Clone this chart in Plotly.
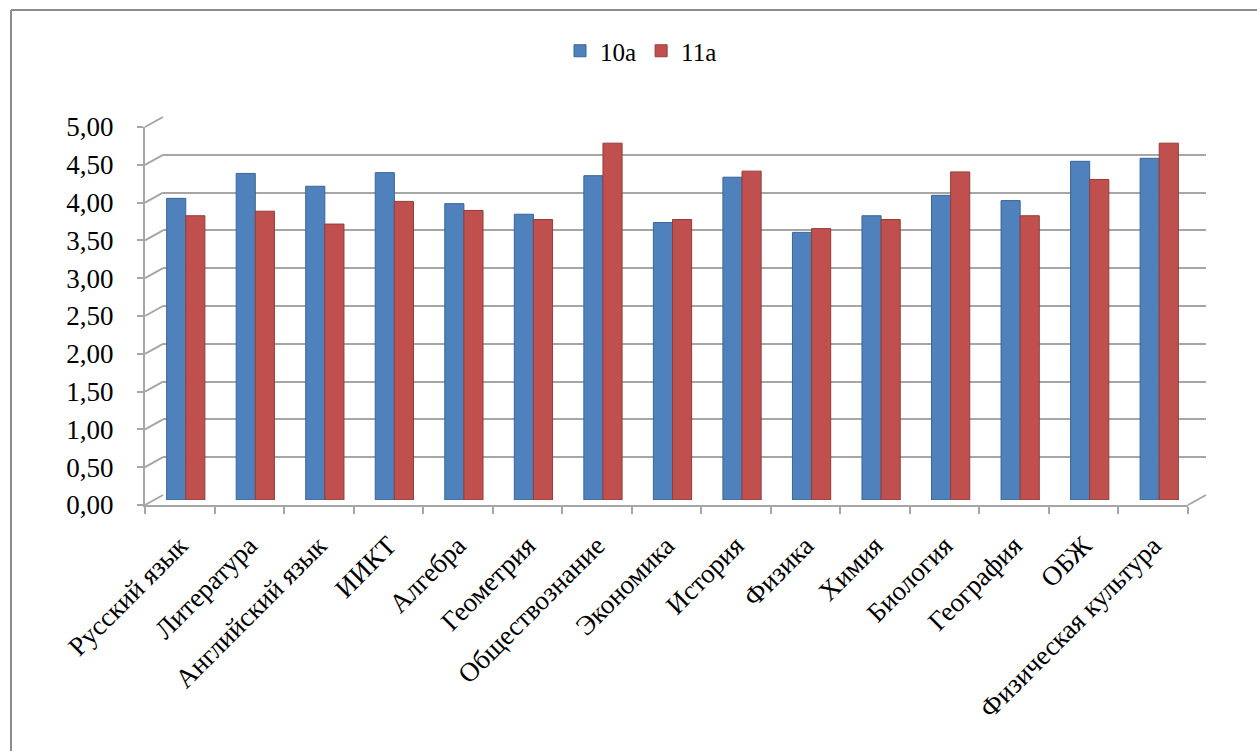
import plotly.graph_objects as go

categories = ["Русский язык", "Литература", "Английский язык", "ИИКТ", "Алгебра",
              "Геометрия", "Обществознание", "Экономика", "История", "Физика",
              "Химия", "Биология", "География", "ОБЖ", "Физическая культура"]
values_10a = [3.99, 4.32, 4.15, 4.33, 3.92, 3.78, 4.29, 3.67, 4.27, 3.54, 3.76, 4.03, 3.96, 4.48, 4.52]
values_11a = [3.76, 3.82, 3.65, 3.95, 3.83, 3.71, 4.72, 3.71, 4.35, 3.59, 3.71, 4.34, 3.76, 4.24, 4.72]
y_ticks = [0, 0.5, 1.0, 1.5, 2.0, 2.5, 3.0, 3.5, 4.0, 4.5, 5.0]
series_names = ["10a", "11a"]

# ---- layout geometry (pixels) ----
WIDTH, HEIGHT = 1257, 751
L, R, T, B = 145, 1206, 117, 505          # overall plot box
PW, PH = R - L, B - T

def dx(px):
    return (px - L) / PW

def dy(py):
    return (B - py) / PH

front_x = [dx(145), dx(1188)]
front_y = [dy(505), dy(127)]
back_x = [dx(163), dx(1206)]
back_y = [dy(495), dy(117)]
mid_x = [dx(151), dx(1194)]
mid_y = [dy(500), dy(122)]

BLUE, RED = "#4F81BD", "#C0504D"
GRID = "#a6a6a6"
FONT = "Liberation Serif"

fig = go.Figure()

# back wall (gridlines only)
fig.add_trace(go.Scatter(x=categories, y=[None] * len(categories), xaxis="x", yaxis="y",
                         showlegend=False, hoverinfo="skip"))
# bars (middle depth)
fig.add_trace(go.Bar(x=categories, y=values_10a, name=series_names[0], xaxis="x2", yaxis="y2",
                     marker=dict(color=BLUE, line=dict(color="#3a6595", width=1))))
fig.add_trace(go.Bar(x=categories, y=values_11a, name=series_names[1], xaxis="x2", yaxis="y2",
                     marker=dict(color=RED, line=dict(color="#943c3a", width=1))))
# front axes
fig.add_trace(go.Scatter(x=categories, y=[None] * len(categories), xaxis="x3", yaxis="y3",
                         showlegend=False, hoverinfo="skip"))

rng_x = [-0.5, len(categories) - 0.5]

# diagonal connectors from front y-axis ticks to the back wall
shapes = []
for v in y_ticks:
    fy = front_y[0] + (front_y[1] - front_y[0]) * v / 5.0
    by = back_y[0] + (back_y[1] - back_y[0]) * v / 5.0
    shapes.append(dict(type="line", xref="paper", yref="paper", x0=front_x[0], y0=fy,
                       x1=back_x[0], y1=by, line=dict(color=GRID, width=2)))
# floor right edge
shapes.append(dict(type="line", xref="paper", yref="paper", x0=front_x[1], y0=front_y[0],
                   x1=back_x[1], y1=back_y[0], line=dict(color=GRID, width=2)))
# chart frame (top and left borders)
shapes.append(dict(type="line", xref="paper", yref="paper", x0=dx(11), y0=dy(10),
                   x1=dx(1262), y1=dy(10), line=dict(color="#8c8c8c", width=2)))
shapes.append(dict(type="line", xref="paper", yref="paper", x0=dx(11), y0=dy(10),
                   x1=dx(11), y1=dy(760), line=dict(color="#8c8c8c", width=2)))

fig.update_layout(
    width=WIDTH, height=HEIGHT,
    margin=dict(l=L, r=WIDTH - R, t=T, b=HEIGHT - B, pad=0),
    paper_bgcolor="white", plot_bgcolor="rgba(0,0,0,0)",
    separators=", ",
    font=dict(family=FONT, size=26, color="black"),
    barmode="group", bargap=0.45, bargroupgap=0,
    showlegend=True,
    legend=dict(orientation="h", x=dx(641), xanchor="center", y=dy(51), yanchor="middle",
                font=dict(family=FONT, size=25, color="black"), itemwidth=30,
                bgcolor="rgba(0,0,0,0)"),
    shapes=shapes,
    xaxis=dict(domain=back_x, range=rng_x, showticklabels=False, showgrid=False,
               zeroline=False, showline=False, ticks=""),
    yaxis=dict(domain=back_y, range=[0, 5], tickvals=y_ticks, showticklabels=False,
               showgrid=True, gridcolor=GRID, gridwidth=2, zeroline=False, showline=False,
               anchor="x"),
    xaxis2=dict(domain=mid_x, range=rng_x, showticklabels=False, showgrid=False,
                zeroline=False, showline=False, anchor="y2"),
    yaxis2=dict(domain=mid_y, range=[0, 5], showticklabels=False, showgrid=False,
                zeroline=False, showline=False, anchor="x2"),
    xaxis3=dict(domain=front_x, range=rng_x, anchor="y3", showgrid=False, zeroline=False,
                showline=True, linecolor=GRID, linewidth=2, ticks="outside",
                tickson="boundaries", ticklen=7, tickcolor=GRID, tickwidth=2,
                tickangle=-45, ticklabelstandoff=12,
                tickfont=dict(family=FONT, size=27, color="black")),
    yaxis3=dict(domain=front_y, range=[0, 5], anchor="x3", tickvals=y_ticks,
                tickformat=".2f", showgrid=False, zeroline=False, showline=True,
                linecolor=GRID, linewidth=2, ticks="outside", ticklen=6,
                tickcolor=GRID, tickwidth=2, ticklabelstandoff=18,
                tickfont=dict(family=FONT, size=27, color="black")),
)

fig.write_html("out.html", config={"displayModeBar": False},
               post_script="document.body.style.margin='0';")
